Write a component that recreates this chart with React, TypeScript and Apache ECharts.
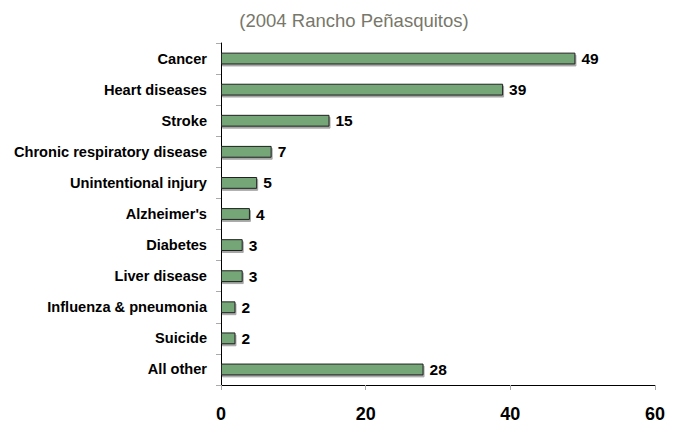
import React, { useEffect, useRef } from "react";
import * as echarts from "echarts";

const categories = [
  "Cancer",
  "Heart diseases",
  "Stroke",
  "Chronic respiratory disease",
  "Unintentional injury",
  "Alzheimer's",
  "Diabetes",
  "Liver disease",
  "Influenza & pneumonia",
  "Suicide",
  "All other",
];
const values = [49, 39, 15, 7, 5, 4, 3, 3, 2, 2, 28];
const subtitle = "(2004 Rancho Peñasquitos)";

export default function App() {
  const ref = useRef<HTMLDivElement>(null);
  useEffect(() => {
    if (!ref.current) return;
    const chart = echarts.init(ref.current, null, { renderer: "svg" });
    chart.setOption({
      animation: false,
      backgroundColor: "#ffffff",
      title: {
        text: subtitle,
        left: 349,
        top: 6,
        textAlign: "center",
        textStyle: {
          fontFamily: "Liberation Sans, Arial, sans-serif",
          fontSize: 18.5,
          fontWeight: "normal",
          color: "#77776a",
        },
      },
      grid: { left: 221, right: 24, top: 43, bottom: 37, containLabel: false },
      xAxis: {
        type: "value",
        min: 0,
        max: 60,
        interval: 20,
        splitLine: { show: false },
        axisLine: { show: true, lineStyle: { color: "#000", width: 1 } },
        axisTick: { show: true, length: 5, lineStyle: { color: "#aaa" } },
        axisLabel: {
          margin: 20,
          fontFamily: "Liberation Sans, Arial, sans-serif",
          fontSize: 18,
          fontWeight: "bold",
          color: "#000",
        },
      },
      yAxis: {
        type: "category",
        inverse: true,
        data: categories,
        axisLine: { show: true, lineStyle: { color: "#000", width: 1 } },
        axisTick: { show: true, length: 5, alignWithLabel: false, lineStyle: { color: "#aaa" } },
        axisLabel: {
          margin: 14,
          fontFamily: "Liberation Sans, Arial, sans-serif",
          fontSize: 14.6,
          fontWeight: "bold",
          color: "#000",
        },
      },
      series: [
        {
          type: "bar",
          data: values,
          barWidth: "38%",
          itemStyle: {
            color: "#74a677",
            borderColor: "#222",
            borderWidth: 1,
            shadowColor: "rgba(0,0,0,0.35)",
            shadowOffsetX: 1,
            shadowOffsetY: 2,
            shadowBlur: 0,
          },
          label: {
            show: true,
            position: "right",
            distance: 6,
            fontFamily: "Liberation Sans, Arial, sans-serif",
            fontSize: 15.5,
            fontWeight: "bold",
            color: "#000",
          },
        },
      ],
    });
    return () => chart.dispose();
  }, []);
  return (
    <div
      ref={ref}
      style={{ position: "fixed", left: 0, top: 0, width: 679, height: 423 }}
    />
  );
}
